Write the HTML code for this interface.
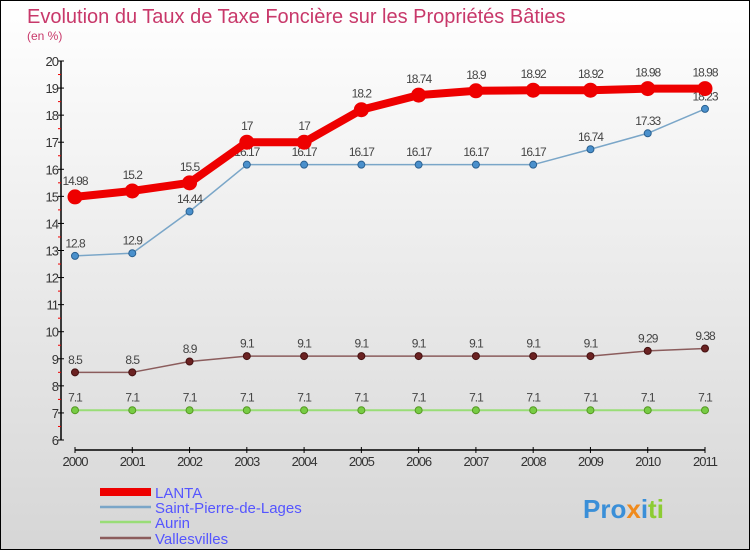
<!DOCTYPE html>
<html><head><meta charset="utf-8"><style>
body{margin:0}
svg{display:block;font-family:"Liberation Sans",sans-serif}
</style></head><body>
<svg width="750" height="550" xmlns="http://www.w3.org/2000/svg">
<defs><linearGradient id="bg" x1="0" y1="0" x2="0" y2="1"><stop offset="0" stop-color="#ffffff"/><stop offset="1" stop-color="#d6d6d6"/></linearGradient></defs>
<rect x="0.5" y="0.5" width="749" height="549" fill="url(#bg)" stroke="#000"/>
<text x="27" y="23" font-size="20" fill="#c8386a">Evolution du Taux de Taxe Foncière sur les Propriétés Bâties</text>
<text x="27" y="40" font-size="12" fill="#c8386a">(en %)</text>
<g id="axes"></g>
<g id="series"></g>
<g id="legend">
<line x1="100" y1="492" x2="151" y2="492" stroke="#ee0000" stroke-width="8"/>
<text x="155" y="498" font-size="15" fill="#5555ff">LANTA</text>
<line x1="100" y1="507" x2="151" y2="507" stroke="#7aa6c8" stroke-width="2.5"/>
<text x="155" y="513" font-size="15" fill="#5555ff">Saint-Pierre-de-Lages</text>
<line x1="100" y1="522" x2="151" y2="522" stroke="#99dd77" stroke-width="2.5"/>
<text x="155" y="528" font-size="15" fill="#5555ff">Aurin</text>
<line x1="100" y1="538" x2="151" y2="538" stroke="#8b5c5c" stroke-width="2.5"/>
<text x="155" y="544" font-size="15" fill="#5555ff">Vallesvilles</text>
</g>
<text x="583" y="518" font-size="26" font-weight="bold"><tspan fill="#3a8fd8">Pro</tspan><tspan fill="#f08a1c">x</tspan><tspan fill="#3a8fd8">i</tspan><tspan fill="#8ccc33">ti</tspan></text>
</svg>
<script>
const years=["2000","2001","2002","2003","2004","2005","2006","2007","2008","2009","2010","2011"];
const lanta=[14.98,15.2,15.5,17,17,18.2,18.74,18.9,18.92,18.92,18.98,18.98];
const stpierre=[12.8,12.9,14.44,16.17,16.17,16.17,16.17,16.17,16.17,16.74,17.33,18.23];
const aurin=[7.1,7.1,7.1,7.1,7.1,7.1,7.1,7.1,7.1,7.1,7.1,7.1];
const vallesvilles=[8.5,8.5,8.9,9.1,9.1,9.1,9.1,9.1,9.1,9.1,9.29,9.38];
const yTicks=[6,7,8,9,10,11,12,13,14,15,16,17,18,19,20];
const NS="http://www.w3.org/2000/svg";
const x=i=>75+i*(630/11);
const y=v=>440-(v-6)*(379/14);
function mk(p,t,a){const e=document.createElementNS(NS,t);for(const k in a)e.setAttribute(k,a[k]);p.appendChild(e);return e;}
const ax=document.getElementById('axes');
let l=mk(ax,'line',{x1:61,y1:y(20),x2:61,y2:y(6),stroke:'#000','stroke-width':1.5});


yTicks.forEach(v=>{
 let t=mk(ax,'line',{x1:58,y1:y(v),x2:64,y2:y(v),stroke:'#000'});
 
 
 if(v<20){let m=mk(ax,'line',{x1:58,y1:y(v+0.5),x2:61,y2:y(v+0.5),stroke:'#e00'});
 
 }
 let tx=mk(ax,'text',{x:58,y:y(v)+5,'font-size':13,fill:'#333','text-anchor':'end','letter-spacing':'-1'});
 tx.textContent=v;
 
 
});
l=mk(ax,'line',{x1:75,y1:450,x2:705,y2:450,stroke:'#000','stroke-width':1.5});


years.forEach((yr,i)=>{
 let t=mk(ax,'line',{x1:x(i),y1:447,x2:x(i),y2:453,stroke:'#000'});
 
 
 let tx=mk(ax,'text',{x:x(i),y:466,'font-size':13,fill:'#333','text-anchor':'middle','letter-spacing':'-1'});
 tx.textContent=yr;
 
 
});
const sg=document.getElementById('series');
function series(vals,name,col,w,r,mcol,mstroke){
 const g=mk(sg,'g',{});
 
 
 let p=mk(g,'polyline',{points:vals.map((v,i)=>x(i)+','+y(v)).join(' '),fill:'none',stroke:col,'stroke-width':w,'stroke-linejoin':'round'});
 
 
 vals.forEach((v,i)=>{
  let c=mk(g,'circle',{cx:x(i),cy:y(v),r:r,fill:mcol,stroke:mstroke,'stroke-width':1});
  
  
  let t=mk(g,'text',{x:x(i),y:y(v)-(r+5),'font-size':12,fill:'#444','text-anchor':'middle','letter-spacing':'-1'});
  t.textContent=v;
  
  
 });
}
series(aurin,'aurin','#99dd77',2,3.5,'#77cc44','#559922');
series(vallesvilles,'vallesvilles','#8b5c5c',1.5,3.5,'#6b2222','#441111');
series(stpierre,'saint-pierre','#7aa6c8',1.5,3.5,'#4a90cc','#2a6090');
series(lanta,'lanta','#ee0000',8,7,'#ee0000','#ee0000');
</script>
</body></html>
